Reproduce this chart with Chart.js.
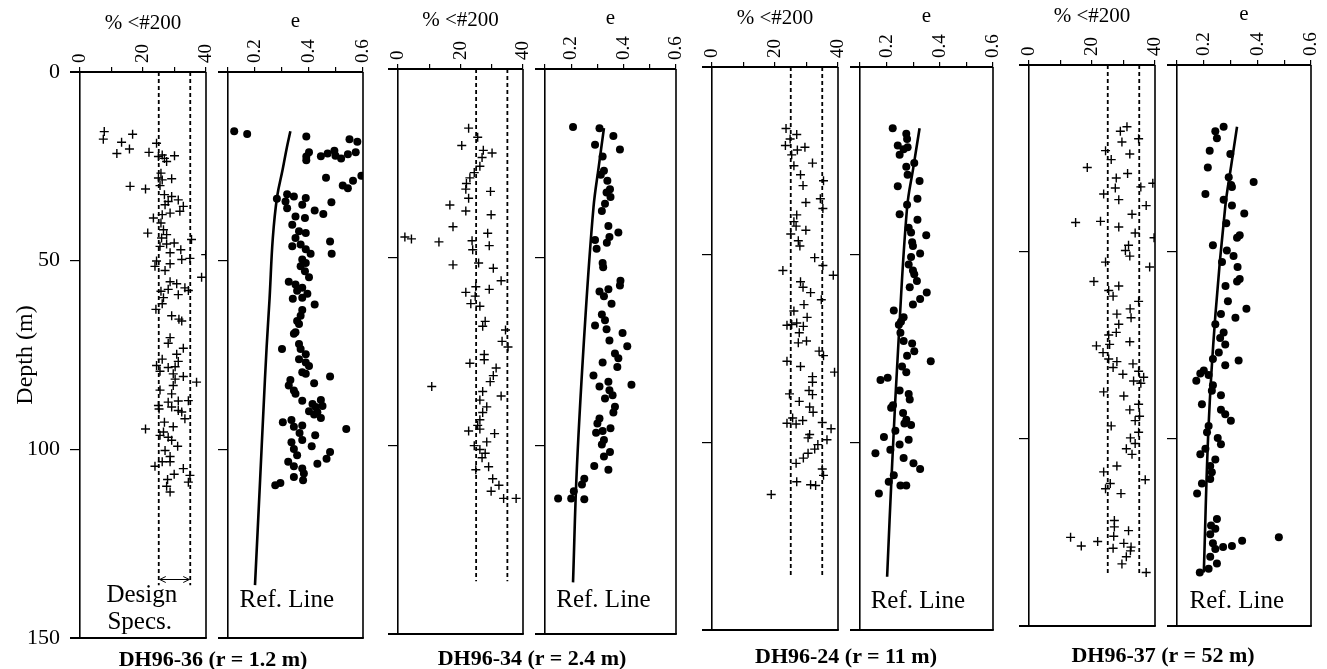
<!DOCTYPE html>
<html>
<head>
<meta charset="utf-8">
<script src="https://cdn.jsdelivr.net/npm/chart.js@4.4.0/dist/chart.umd.min.js"></script>
<style>
  body { margin: 0; background: #fff; width: 1327px; height: 669px; position: relative; overflow: hidden; }
  canvas { position: absolute; left: 0; top: 0; }
  .hole { position: absolute; font: bold 22px "Liberation Serif", serif; white-space: nowrap;
          transform: translateX(-50%); line-height: 24px; color: #000; }
</style>
</head>
<body>
<script>
// Borehole labels
const holeLabels = ['DH96-36 (r = 1.2 m)', 'DH96-34 (r = 2.4 m)', 'DH96-24 (r = 11 m)', 'DH96-37 (r = 52 m)'];

// Design spec band for % passing #200 (min, max, depth where the band ends)
const designSpecs = [25, 35];
const specEndDepth = 136;

// % <#200 vs depth (m) — [percent, depth]
const fines36 = [
  [7.7,15.8],[7.4,17.8],[16.7,16.5],[13.2,18.6],[15.7,20.4],[11.7,21.6],[24.3,18.9],[21.9,21.3],
  [24.9,22.4],[26.1,22.0],[26.8,22.9],[27.5,23.7],[30.0,22.2],
  [25.7,26.8],[24.9,28.1],[29.1,28.3],[26.1,28.6],[25.4,30.1],[15.9,30.3],[20.8,31.0],
  [26.8,32.5],[29.1,33.0],[28.0,34.3],[31.2,33.9],[32.8,35.6],[31.7,36.9],[27.0,35.2],[28.6,37.4],
  [23.3,38.7],[26.1,37.8],[25.7,40.0],[21.5,42.7],[26.5,41.8],[27.5,43.1],[25.9,44.0],[35.4,44.4],
  [25.4,46.2],[27.5,45.6],[29.9,45.3],[28.6,47.9],[32.0,47.1],[39.9,48.4],[32.3,49.7],[34.9,49.4],
  [24.3,50.1],[23.8,51.5],[27.0,52.6],[28.6,50.8],[38.6,54.4],
  [28.6,55.6],[30.7,56.1],[28.0,57.6],[33.3,57.2],[34.4,57.9],[31.2,59.0],
  [25.7,58.1],[26.5,59.8],[26.1,61.4],[24.1,62.9],[29.1,64.6],[32.3,66.0],[31.4,65.5],
  [28.6,70.4],[28.0,71.9],[32.8,73.2],[30.7,74.8],[26.1,76.1],
  [31.2,76.7],[24.3,77.8],[25.4,79.3],[28.0,78.3],[30.2,78.1],
  [29.6,80.0],[32.8,80.7],[30.2,81.4],[37.0,82.2],[29.6,83.1],[25.4,84.3],[29.1,85.3],
  [34.4,87.1],[31.2,87.2],[28.0,87.5],[24.9,88.4],[29.1,88.8],[31.2,89.7],[32.3,90.1],[33.3,91.9],[25.1,89.3],
  [20.8,94.6],[26.8,92.8],[29.6,94.0],[26.5,95.4],[28.0,96.8],[25.4,96.3],[29.1,97.6],
  [31.0,99.2],[27.0,100.3],[28.6,101.9],[26.1,103.3],[23.8,104.5],[28.6,103.3],
  [32.8,105.1],[34.9,106.9],[34.4,108.7],[29.9,106.6],[27.8,108.0],[27.5,109.8],[28.6,111.3]
];
const fines34 = [
  [22.6,15.7],[25.5,18.1],[20.4,20.3],[27.3,21.6],[30.1,22.3],[26.9,23.5],[26.2,25.8],
  [24.4,27.5],[23.0,28.9],[21.9,30.4],[21.7,31.9],[22.6,34.3],[29.6,32.5],[29.8,38.7],
  [16.6,36.1],[21.7,37.7],[17.6,41.9],[2.2,44.6],[4.3,45.1],[13.1,45.9],
  [23.7,45.6],[23.9,48.0],[28.7,43.6],[29.2,46.9],[17.6,52.0],
  [25.8,51.5],[30.5,52.9],[33.0,56.2],
  [24.9,57.8],[21.7,59.3],[24.7,60.3],[23.3,62.3],[26.2,63.0],[29.2,58.5],
  [27.9,67.0],[27.1,68.3],[34.4,69.3],[33.3,72.3],[35.2,73.8],
  [27.6,75.8],[27.6,77.2],[23.0,78.1],[31.4,79.4],[30.5,81.4],[29.5,83.0],[10.8,84.3],
  [27.1,85.6],[33.0,86.8],[26.2,87.9],[28.4,89.7],[27.1,91.2],
  [26.2,93.1],[25.5,94.6],[26.2,95.6],
  [22.6,96.1],[30.9,96.8],[28.4,99.0],[24.4,100.0],[26.2,101.0],[27.9,102.0],[26.9,103.2],
  [24.9,106.4],[29.0,105.6],[30.3,108.8],[32.3,110.5],[29.8,112.1],[33.8,114.0],[37.8,114.0]
];
const fines24 = [
  [23.5,16.4],[26.9,18.0],[24.8,19.2],[23.3,20.9],[27.1,22.1],[29.5,21.4],[25.3,23.4],[26.0,26.3],[31.9,25.6],
  [28.1,28.7],[28.9,31.6],[35.4,30.3],[34.4,35.1],[35.2,37.7],[29.8,36.1],
  [26.9,39.4],[26.0,41.2],[26.7,42.4],[29.8,43.5],[25.0,44.5],[27.4,46.3],[27.9,47.7],
  [32.6,50.8],[35.2,52.9],[22.5,54.2],[38.5,55.5],
  [28.1,57.2],[28.9,58.7],[31.3,60.1],[34.7,62.0],[29.2,63.3],[30.2,66.7],[26.0,65.0],
  [23.8,68.8],[25.3,68.6],[26.9,68.2],[29.0,69.1],[27.7,70.8],[27.4,73.5],[30.0,73.0],
  [34.0,75.7],[35.4,76.9],[23.8,78.4],[28.1,79.8],[38.9,81.3],
  [31.9,82.5],[31.9,84.0],[24.6,87.1],[30.8,86.2],[31.9,87.3],[27.7,89.1],[31.0,90.6],[32.1,92.0],
  [25.6,93.5],[23.8,94.9],[26.7,95.1],[28.8,94.2],[35.0,94.7],[37.8,96.4],[36.5,99.3],[31.0,97.9],[30.5,98.8],
  [33.6,100.6],[32.6,101.8],[30.5,102.9],[29.0,104.2],[26.7,105.6],[35.0,107.1],[35.4,108.8],
  [26.9,110.5],[31.3,111.3],[32.9,111.5],[18.8,113.9]
];
const fines37 = [
  [31.1,16.5],[29.0,17.7],[29.5,20.6],[34.8,19.7],
  [24.3,22.9],[26.1,25.3],[32.0,23.8],[18.5,27.4],[27.7,30.2],[31.3,29.0],[27.4,32.9],[28.5,36.0],[23.7,34.5],
  [35.5,32.6],[39.3,31.6],[37.2,37.6],[32.7,39.9],[14.8,42.1],[22.7,41.8],[28.5,43.3],[33.7,44.9],[39.7,46.2],
  [31.6,48.2],[30.6,49.6],[32.0,51.1],[24.3,52.7],[38.3,54.0],
  [20.6,57.9],[25.3,60.3],[26.7,61.8],[28.5,59.1],[34.8,63.2],
  [32.1,65.2],[32.4,67.6],[27.9,66.6],[28.5,69.3],[27.7,71.5],[32.0,74.0],[25.3,72.2],[25.6,74.7],
  [21.4,75.1],[23.5,76.9],[25.3,78.6],[27.9,79.3],[26.7,80.9],[29.8,82.7],[33.0,79.9],[34.8,81.9],
  [36.4,83.5],[33.2,84.5],[35.5,85.1],
  [23.7,87.4],[30.1,88.5],[32.0,92.2],[34.8,90.7],[35.1,93.9],[33.7,95.1],[26.1,96.5],
  [34.8,98.2],[32.2,99.7],[33.7,101.2],[30.9,102.6],[32.7,104.1],
  [27.9,107.2],[23.7,108.8],[25.8,111.9],[24.3,113.3],[29.2,114.6],[36.9,110.9],
  [27.1,121.8],[27.1,123.5],[26.9,126.0],[31.6,124.5],[13.2,126.3],[16.6,128.6],[21.8,127.4],
  [26.7,129.2],[30.1,127.9],[32.4,128.9],[32.2,129.9],[30.9,131.5],[29.5,133.4],[37.2,135.7]
];

// void ratio e vs depth (m) — [e, depth]
const voids36 = [
  [0.123,15.7],[0.171,16.4],[0.39,17.1],[0.55,17.8],[0.579,18.5],
  [0.40,21.3],[0.39,22.4],[0.39,23.4],[0.444,22.3],[0.469,21.6],[0.494,20.9],[0.519,22.9],[0.544,21.8],[0.573,21.3],[0.498,22.2],
  [0.463,28.0],[0.563,28.8],[0.594,27.5],[0.525,30.1],[0.544,30.8],
  [0.281,33.6],[0.319,32.4],[0.344,33.0],[0.313,34.3],[0.319,36.1],
  [0.388,33.4],[0.375,35.2],[0.421,36.7],[0.453,37.6],[0.483,34.5],
  [0.35,38.3],[0.385,38.7],[0.338,40.5],[0.363,42.2],[0.388,42.7],[0.35,44.0],[0.338,46.2],[0.369,45.7],[0.388,47.0],[0.406,48.2],
  [0.478,44.9],[0.484,48.2],
  [0.375,49.7],[0.388,50.6],[0.369,51.5],[0.385,52.8],[0.40,54.4],
  [0.325,55.6],[0.35,56.3],[0.375,57.2],[0.356,58.0],[0.394,58.8],[0.34,60.1],[0.375,59.8],[0.421,61.6],
  [0.375,63.1],[0.369,64.6],[0.356,66.0],[0.363,66.8],[0.35,69.0],[0.344,69.4],
  [0.30,73.4],[0.363,72.1],[0.369,73.4],[0.388,74.8],[0.363,76.1],
  [0.388,77.0],[0.40,77.9],[0.375,79.6],[0.388,80.0],[0.478,80.7],[0.419,82.5],
  [0.331,81.6],[0.325,83.1],[0.344,84.4],[0.35,85.3],[0.375,87.1],
  [0.413,88.0],[0.425,88.8],[0.444,86.9],[0.45,88.5],[0.40,89.9],[0.419,90.8],[0.444,91.7],[0.431,90.2],
  [0.303,92.8],[0.335,92.2],[0.344,94.0],[0.375,93.7],[0.365,95.7],[0.375,97.5],[0.423,96.3],[0.538,94.6],
  [0.335,98.1],[0.344,99.9],[0.356,101.6],[0.41,99.2],[0.478,100.7],[0.465,102.5],[0.431,103.8],
  [0.323,103.3],[0.344,104.5],[0.375,105.1],[0.381,106.4],[0.378,108.2],[0.344,107.3],
  [0.275,109.5],[0.294,108.9]
];
const voids34 = [
  [0.207,15.4],[0.308,15.7],[0.361,17.8],[0.291,20.1],[0.386,21.4],[0.32,23.2],
  [0.325,27.0],[0.313,28.1],[0.338,29.7],[0.348,31.9],[0.335,32.8],[0.35,34.0],[0.329,35.8],[0.317,37.7],
  [0.342,41.7],[0.38,43.4],[0.346,44.6],[0.336,46.1],[0.291,45.4],[0.297,47.7],
  [0.32,51.5],[0.322,52.6],[0.388,56.2],[0.386,57.5],
  [0.308,59.1],[0.342,58.5],[0.325,60.3],[0.354,62.3],
  [0.317,65.2],[0.329,66.7],[0.291,68.1],[0.335,69.1],
  [0.396,70.1],[0.346,72.1],[0.414,73.6],[0.367,75.5],[0.38,76.8],[0.376,79.1],
  [0.32,77.9],[0.285,81.4],[0.342,83.0],[0.308,84.3],[0.346,85.3],[0.358,86.6],[0.329,87.5],[0.43,83.8],
  [0.367,89.7],[0.361,91.2],[0.308,92.8],[0.30,94.1],[0.295,96.6],[0.32,96.1],[0.35,95.4],[0.325,98.5],
  [0.317,99.7],[0.348,101.7],[0.325,102.9],[0.288,105.4],[0.342,106.4],
  [0.25,108.8],[0.241,110.3],[0.21,112.1],[0.20,114.0],[0.15,114.0],[0.25,114.2]
];
const voids24 = [
  [0.223,16.3],[0.274,17.8],[0.277,19.2],[0.242,20.9],[0.279,21.4],[0.249,23.4],[0.264,21.9],
  [0.304,25.6],[0.274,26.6],[0.279,28.7],[0.324,30.4],
  [0.242,31.8],[0.316,35.1],[0.277,36.7],[0.249,39.2],[0.316,40.7],[0.349,44.8],
  [0.283,42.8],[0.292,44.1],[0.296,46.7],[0.299,47.7],[0.326,49.7],[0.292,50.6],[0.283,52.6],[0.299,54.2],
  [0.304,55.2],[0.314,57.0],[0.287,58.7],[0.351,60.1],[0.326,61.8],[0.299,63.3],
  [0.227,64.9],[0.264,66.7],[0.254,67.9],[0.246,68.7],[0.252,70.8],
  [0.264,73.0],[0.296,73.7],[0.304,75.7],[0.277,76.9],[0.366,78.4],
  [0.258,79.8],[0.274,81.3],[0.177,83.4],[0.204,82.8],
  [0.249,86.2],[0.283,87.1],[0.287,88.6],
  [0.224,90.1],[0.217,90.8],[0.262,92.2],[0.274,94.0],[0.292,95.4],[0.267,95.0],
  [0.233,96.9],[0.19,98.6],[0.249,100.6],[0.283,99.3],[0.214,102.0],[0.158,102.9],
  [0.264,104.2],[0.301,105.6],[0.326,107.1],
  [0.227,108.8],[0.208,110.5],[0.252,111.5],[0.274,111.5],[0.171,113.6]
];
const voids37 = [
  [0.274,16.5],[0.243,17.7],[0.249,19.6],[0.222,22.9],[0.299,23.8],[0.215,27.4],[0.206,34.5],
  [0.293,30.0],[0.305,32.6],[0.302,32.1],[0.386,31.3],[0.274,36.0],[0.305,37.6],[0.351,39.7],[0.284,42.3],
  [0.334,45.5],[0.324,46.2],
  [0.234,48.2],[0.286,49.6],[0.311,51.1],[0.268,52.7],[0.326,54.0],[0.334,57.2],[0.324,57.9],[0.281,59.1],
  [0.29,63.2],[0.359,65.2],[0.318,67.6],
  [0.264,66.6],[0.243,69.3],[0.274,71.5],[0.261,73.0],[0.28,74.7],[0.256,76.9],[0.234,78.6],[0.28,80.3],[0.33,79.0],
  [0.20,81.7],[0.172,84.4],[0.187,82.5],[0.218,82.9],[0.234,85.6],[0.23,87.1],[0.264,88.3],[0.193,90.7],
  [0.264,92.2],[0.28,93.4],[0.301,95.1],
  [0.218,96.5],[0.212,98.2],[0.252,99.7],[0.264,101.4],[0.206,102.6],[0.187,104.1],[0.243,105.5],
  [0.224,107.2],[0.23,108.9],[0.224,110.7],[0.193,111.9],[0.175,114.6],
  [0.249,121.4],[0.227,123.1],[0.243,124.0],[0.224,125.5],[0.234,127.9],[0.243,129.4],[0.272,128.9],
  [0.305,128.6],[0.343,127.2],[0.48,126.3],[0.224,131.5],[0.249,133.3],[0.218,134.7],[0.185,135.7]
];

// Reference lines — [e, depth]
const ref36 = [[0.331,15.7],[0.318,20],[0.302,26],[0.282,33],[0.266,44],[0.254,60],[0.243,73],[0.231,90],[0.219,108],[0.2,136]];
const ref34 = [[0.325,15.7],[0.305,26],[0.285,36.8],[0.254,66.2],[0.222,105.4],[0.207,136.3]];
const ref24 = [[0.324,16.3],[0.3,27],[0.277,37.5],[0.246,71.6],[0.221,105.6],[0.202,135.8]];
const ref37 = [[0.324,16.5],[0.302,27],[0.28,37.9],[0.243,67.1],[0.218,96.3],[0.2,135.7]];

const W = 1327, H = 669;
const FONT = '"Liberation Serif", "Times New Roman", serif';
Chart.defaults.font.family = FONT;
Chart.defaults.color = '#000';

const toXY = pairs => pairs.map(([x, y]) => ({ x, y }));

// plot boxes, in page pixels (the scan is slightly tilted)
const panels = [
  { left: 80,   right: 206,  top: 72, bottom: 638, kind: 'fines', pts: fines36, specs: true, axisLabels: true,
    notes: [['Design', 8.4, 138.6], ['Specs.', 8.7, 146]] },
  { left: 228,  right: 363,  top: 72, bottom: 638, kind: 'e', pts: voids36, ref: ref36, notes: [['Ref. Line', 0.143, 140]] },
  { left: 398,  right: 523,  top: 69, bottom: 634, kind: 'fines', pts: fines34, specs: true },
  { left: 545,  right: 676,  top: 69, bottom: 634, kind: 'e', pts: voids34, ref: ref34, notes: [['Ref. Line', 0.143, 141]] },
  { left: 712,  right: 838,  top: 67, bottom: 630, kind: 'fines', pts: fines24, specs: true },
  { left: 860,  right: 993,  top: 67, bottom: 630, kind: 'e', pts: voids24, ref: ref24, notes: [['Ref. Line', 0.14, 142.5]] },
  { left: 1029, right: 1155, top: 65, bottom: 626, kind: 'fines', pts: fines37, specs: true },
  { left: 1177, right: 1311, top: 65, bottom: 626, kind: 'e', pts: voids37, ref: ref37, notes: [['Ref. Line', 0.147, 143.5]] }
];

// frame, double arrow and in-plot notes
const framePlugin = {
  id: 'frame',
  afterDatasetsDraw(chart, args, opts) {
    const { ctx, chartArea: a, scales: { x, y } } = chart;
    ctx.save();
    ctx.strokeStyle = '#000';
    ctx.lineWidth = 1.6;
    ctx.beginPath();
    ctx.moveTo(a.right, a.top);
    ctx.lineTo(a.right, a.bottom);
    ctx.stroke();
    ctx.lineWidth = 2;
    ctx.beginPath();
    ctx.moveTo(a.left - 10, a.bottom);
    ctx.lineTo(a.right + 0.8, a.bottom);
    ctx.moveTo(a.left - 10, a.top);
    ctx.lineTo(a.left, a.top);
    ctx.stroke();

    if (opts.arrow) {
      const x1 = x.getPixelForValue(designSpecs[0]) + 1;
      const x2 = x.getPixelForValue(designSpecs[1]) - 1;
      const yy = y.getPixelForValue(opts.arrow);
      ctx.lineWidth = 1;
      ctx.beginPath();
      ctx.moveTo(x1, yy); ctx.lineTo(x2, yy);
      ctx.moveTo(x1 + 6, yy - 3); ctx.lineTo(x1, yy); ctx.lineTo(x1 + 6, yy + 3);
      ctx.moveTo(x2 - 6, yy - 3); ctx.lineTo(x2, yy); ctx.lineTo(x2 - 6, yy + 3);
      ctx.stroke();
    }

    ctx.fillStyle = '#000';
    ctx.font = '25px ' + FONT;
    ctx.textAlign = 'left';
    ctx.textBaseline = 'middle';
    (opts.notes || []).forEach(([text, vx, vy]) => {
      ctx.fillText(text, x.getPixelForValue(vx), y.getPixelForValue(vy));
    });
    ctx.restore();
  }
};

function makePanel(p) {
  const canvas = document.createElement('canvas');
  canvas.width = W;
  canvas.height = H;
  document.body.appendChild(canvas);

  const fines = p.kind === 'fines';
  const yWidth = p.axisLabels ? p.left : 12;
  const datasets = [];

  if (p.specs) {
    designSpecs.forEach(v => {
      datasets.push({
        data: toXY([[v, 0], [v, specEndDepth]]),
        showLine: true, borderColor: '#000', borderWidth: 1.8, borderDash: [4, 3],
        pointRadius: 0
      });
    });
  }
  if (p.ref) {
    datasets.push({
      data: toXY(p.ref),
      showLine: true, borderColor: '#000', borderWidth: 2.6, tension: 0.4,
      pointRadius: 0
    });
  }
  datasets.push({
    data: toXY(p.pts),
    showLine: false,
    pointStyle: fines ? 'cross' : 'circle',
    pointRadius: fines ? 4.5 : 4,
    borderWidth: fines ? 1.4 : 0,
    borderColor: '#000',
    backgroundColor: '#000'
  });

  const titlePad = p.top - 49 - 12.6 - (fines ? 0 : 2);

  new Chart(canvas, {
    type: 'scatter',
    data: { datasets },
    options: {
      responsive: false,
      animation: false,
      devicePixelRatio: 1,
      layout: { padding: { left: p.left - yWidth, right: W - p.right, top: 0, bottom: H - p.bottom } },
      plugins: {
        legend: { display: false },
        tooltip: { enabled: false },
        frame: {
          notes: p.notes,
          arrow: p.axisLabels ? 134.5 : null
        }
      },
      scales: {
        x: {
          type: 'linear',
          position: 'top',
          min: fines ? 0 : 0.1,
          max: fines ? 40 : 0.6,
          afterFit: s => { s.height = p.top; },
          ticks: {
            stepSize: fines ? 10 : 0.1,
            autoSkip: false,
            minRotation: 90,
            maxRotation: 90,
            padding: 4,
            labelOffset: 23,
            font: { size: 19 },
            color: '#000',
            callback: v => {
              if (fines) return v % 20 === 0 ? String(v) : '';
              const k = Math.round(v * 10);
              return k % 2 === 0 ? (k / 10).toFixed(1) : '';
            }
          },
          grid: { drawOnChartArea: false, drawTicks: true, tickLength: 5, color: '#000', lineWidth: 1.2 },
          border: { display: true, color: '#000', width: 2 },
          title: {
            display: true,
            text: fines ? '% <#200' : 'e',
            font: { size: 21 },
            color: '#000',
            padding: { top: titlePad, bottom: 0 }
          }
        },
        y: {
          type: 'linear',
          reverse: true,
          min: 0,
          max: 150,
          afterFit: s => { s.width = yWidth; },
          ticks: {
            stepSize: 50,
            autoSkip: false,
            padding: 10,
            font: { size: 22 },
            color: '#000',
            callback: v => (p.axisLabels ? String(v) : '')
          },
          grid: { drawOnChartArea: false, drawTicks: true, tickLength: 10, color: '#000', lineWidth: 1.2 },
          border: { display: true, color: '#000', width: 1.6 },
          title: {
            display: !!p.axisLabels,
            text: 'Depth (m)',
            font: { size: 24 },
            color: '#000',
            padding: { top: 11, bottom: 0 }
          }
        }
      }
    },
    plugins: [framePlugin]
  });
}

panels.forEach(makePanel);

// borehole captions under each pair of panels
const captionX = [213, 532, 846, 1163];
const captionY = [647, 646, 644, 643];
holeLabels.forEach((t, i) => {
  const d = document.createElement('div');
  d.className = 'hole';
  d.textContent = t;
  d.style.left = captionX[i] + 'px';
  d.style.top = captionY[i] + 'px';
  document.body.appendChild(d);
});
</script>
</body>
</html>
